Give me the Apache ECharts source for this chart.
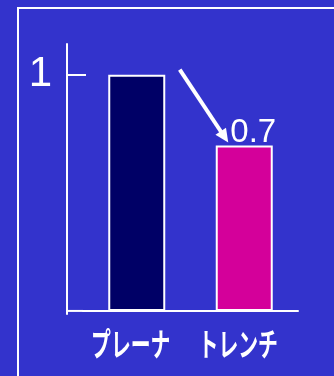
<!DOCTYPE html>
<html>
<head>
<meta charset="utf-8">
<script src="https://cdn.jsdelivr.net/npm/echarts@6/dist/echarts.min.js"></script>
<style>
  html, body { margin: 0; padding: 0; background: #3333cc; }
  #chart { width: 334px; height: 376px; }
</style>
</head>
<body>
<div id="chart"></div>
<script>
// Relative value of the two structures
const categories = ['プレーナ', 'トレンチ'];
const values = [1, 0.7];
const barColors = ['#000066', '#d4009a'];
const yTickValues = [1];

const chart = echarts.init(document.getElementById('chart'), null, { renderer: 'canvas' });

chart.setOption({
  animation: false,
  backgroundColor: '#3333cc',
  grid: { left: 83, right: 36, top: 44, bottom: 62 },
  xAxis: {
    type: 'category',
    data: categories,
    axisLine: { onZero: true, lineStyle: { color: '#ffffff', width: 2 } },
    axisTick: { show: false },
    axisLabel: { show: false }
  },
  yAxis: {
    type: 'value',
    min: -0.013,
    max: 1.13,
    offset: 16,
    splitLine: { show: false },
    axisLine: { show: true, lineStyle: { color: '#ffffff', width: 2 } },
    axisTick: {
      show: true, inside: true, length: 19,
      customValues: yTickValues,
      lineStyle: { color: '#ffffff', width: 2 }
    },
    axisLabel: {
      customValues: yTickValues,
      color: '#ffffff',
      fontSize: 42,
      fontFamily: 'Liberation Sans',
      margin: 15,
      padding: [0, 0, 26, 0]
    }
  },
  series: [{
    type: 'bar',
    barWidth: 57,
    data: values.map((v, i) => ({
      value: v,
      itemStyle: { color: barColors[i], borderColor: '#ffffff', borderWidth: 2 },
      label: i === 1 ? {
        show: true, position: 'top', distance: 0, offset: [9, 4],
        color: '#ffffff', fontSize: 33, fontFamily: 'Liberation Sans'
      } : { show: false }
    }))
  }]
});

// Annotations placed from the chart's own scales
const px = (i) => chart.convertToPixel({ seriesIndex: 0 }, [i, values[i]]);
const zero = chart.convertToPixel({ seriesIndex: 0 }, [0, 0]);
const yAxisX = 83 - 16;
const gridLeft = 83;

const p0 = px(0), p1 = px(1);
const start = [p0[0] + 43, p0[1] - 5];
const end = [p1[0] - 16, p1[1] - 3];
const dx = end[0] - start[0], dy = end[1] - start[1];
const len = Math.hypot(dx, dy);
const ux = dx / len, uy = dy / len;
const headLen = 15, ang = 25 * Math.PI / 180;
const rot = (a) => [
  -(ux * Math.cos(a) - uy * Math.sin(a)) * headLen,
  -(ux * Math.sin(a) + uy * Math.cos(a)) * headLen
];
const b1 = rot(ang), b2 = rot(-ang);
const shaftEnd = [end[0] - ux * 10, end[1] - uy * 10];

const labelTexts = categories.map((name, i) => ({
  type: 'text',
  x: chart.convertToPixel({ xAxisIndex: 0 }, i) - 6,
  y: 344,
  scaleX: 0.62,
  style: {
    text: name,
    fill: '#ffffff',
    fontSize: 32,
    fontWeight: 'bold',
    fontFamily: 'Noto Sans CJK JP',
    textAlign: 'center',
    textVerticalAlign: 'middle'
  }
}));

chart.setOption({
  graphic: [
    {
      type: 'rect',
      shape: { x: 18, y: 8, width: 500, height: 500 },
      style: { fill: 'none', stroke: '#ffffff', lineWidth: 2 },
      silent: true
    },
    {
      type: 'line',
      shape: { x1: yAxisX, y1: zero[1], x2: gridLeft, y2: zero[1] },
      style: { stroke: '#ffffff', lineWidth: 2 }
    },
    {
      type: 'line',
      shape: { x1: start[0], y1: start[1], x2: shaftEnd[0], y2: shaftEnd[1] },
      style: { stroke: '#ffffff', lineWidth: 4 }
    },
    {
      type: 'polygon',
      shape: { points: [end, [end[0] + b1[0], end[1] + b1[1]], [end[0] + b2[0], end[1] + b2[1]]] },
      style: { fill: '#ffffff' }
    }
  ].concat(labelTexts)
});
</script>
</body>
</html>
